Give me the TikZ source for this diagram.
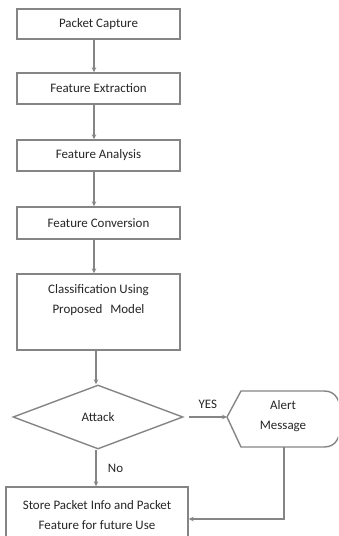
\documentclass[tikz,border=0pt]{standalone}
\usepackage{fontspec}
\setmainfont{Carlito}
\usetikzlibrary{shapes.geometric,arrows.meta,calc}
\definecolor{lineg}{HTML}{858585}
\definecolor{textg}{HTML}{262626}
\tikzset{
  x=1bp, y=-1bp,
  every node/.style={font=\fontsize{13}{20}\selectfont, text=textg},
  stepbox/.style={draw=lineg, line width=1.4bp, rectangle, minimum width=163bp, inner sep=0pt, align=center},
  decision/.style={draw=lineg, line width=1.4bp, diamond, minimum width=170bp, minimum height=64bp, inner sep=0pt},
  conn/.style={draw=lineg, line width=1.3bp, -{Stealth[length=5bp,width=4.5bp]}},
}
\begin{document}
\begin{tikzpicture}
\useasboundingbox (0,0) rectangle (338,536);
\fill[white] (0,0) rectangle (338,536);
\clip (0,0) rectangle (338,536);
\node[stepbox, minimum height=30bp] (cap) at (98.5,24) {Packet Capture};
\node[stepbox, minimum height=31bp] (ext) at (98.5,88.5) {Feature Extraction};
\node[stepbox, minimum height=31bp] (ana) at (98.5,155.5) {Feature Analysis};
\node[stepbox, minimum height=32bp] (conv) at (98.5,223) {Feature Conversion};
\node[stepbox, minimum height=76bp] (cls) at (98.5,312) {Classification Using\\Proposed\hspace{8bp}Model\\\strut};
\node[decision] (att) at (98,417) {Attack};
\node[align=center, inner sep=0pt] (alert) at (283,416) {Alert\\Message};
\coordinate (alL) at (227,417);
\coordinate (alTL) at (241,391);
\coordinate (alTR) at (324,391);
\coordinate (alBR) at (324,447);
\coordinate (alBL) at (241,447);
\coordinate (alS) at (284,447);
\draw[lineg, line width=1.4bp, line join=round] (alL) -- (alTL) -- (alTR)
  .. controls (336,391) and (341,400) .. (341,419)
  .. controls (341,438) and (336,447) .. (alBR) -- (alBL) -- cycle;
\node[stepbox, minimum width=182bp, minimum height=56bp] (store) at (97,515) {Store Packet Info and Packet\\Feature for future Use};
\draw[conn] (cap.south -| 94,0) -- (ext.north -| 94,0);
\draw[conn] (ext.south -| 94,0) -- (ana.north -| 94,0);
\draw[conn] (ana.south -| 94,0) -- (conv.north -| 94,0);
\draw[conn] (conv.south -| 94,0) -- (cls.north -| 94,0);
\draw[conn] (cls.south -| 96,0) -- (att.north -| 96,0);
\draw[conn] (att.east) ++(5,0) coordinate (ye) -- (alL) node[midway, above=4bp] (yes) {YES};
\draw[conn] (att.south -| 96,0) -- (store.north -| 96,0) node[midway, right=8bp] (no) {No};
\draw[conn] (alS) |- ($(store.east)+(0,4)$);
\end{tikzpicture}
\end{document}
